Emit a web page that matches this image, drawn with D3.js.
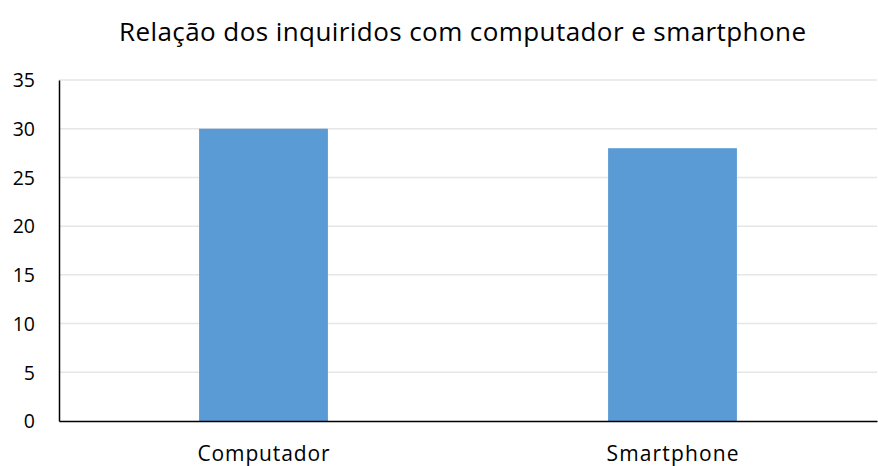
<!DOCTYPE html>
<html>
<head>
<meta charset="utf-8">
<script src="https://cdn.jsdelivr.net/npm/d3@7"></script>
<style>
  body { margin: 0; background: #fff; }
  text { font-family: "Open Sans", "Noto Sans", sans-serif; fill: #000; }
</style>
</head>
<body>
<div id="chart-area"></div>
<script>
const categories = ["Computador", "Smartphone"];
const values = [30, 28];
const yTicks = [0, 5, 10, 15, 20, 25, 30, 35];
const title = "Relação dos inquiridos com computador e smartphone";

const width = 878;
const height = 466;
const margin = { top: 80, right: 1, bottom: 45, left: 59 };

const svg = d3.select("#chart-area")
    .append("svg")
    .attr("width", width)
    .attr("height", height);

const x = d3.scaleBand()
    .domain(categories)
    .range([margin.left, width - margin.right])
    .paddingInner(0.685)
    .paddingOuter(0.3425);

const y = d3.scaleLinear()
    .domain([0, 35])
    .range([height - margin.bottom, margin.top]);

// gridlines
svg.append("g")
    .selectAll("line")
    .data(yTicks.filter(d => d > 0))
    .enter()
    .append("line")
    .attr("x1", margin.left)
    .attr("x2", width - margin.right)
    .attr("y1", d => y(d))
    .attr("y2", d => y(d))
    .attr("stroke", "#e6e6e6")
    .attr("stroke-width", 1.5);

// bars
svg.append("g")
    .selectAll("rect")
    .data(values)
    .enter()
    .append("rect")
    .attr("x", (d, i) => x(categories[i]))
    .attr("y", d => y(d))
    .attr("width", x.bandwidth())
    .attr("height", d => y(0) - y(d))
    .attr("fill", "#5b9bd5");

// y axis
const yAxis = svg.append("g")
    .attr("transform", "translate(" + margin.left + ",0)")
    .call(d3.axisLeft(y).tickValues(yTicks).tickSize(0).tickPadding(24));
yAxis.select(".domain").attr("stroke", "#000").attr("stroke-width", 1.5);
yAxis.selectAll("text").style("font-size", "19.5px").attr("dy", "0.35em");

// x axis
const xAxis = svg.append("g")
    .attr("transform", "translate(0," + y(0) + ")")
    .call(d3.axisBottom(x).tickSize(0).tickPadding(25));
xAxis.select(".domain").attr("stroke", "#000").attr("stroke-width", 1.5);
xAxis.selectAll("text").style("font-size", "21px").attr("textLength", 132).attr("lengthAdjust", "spacing");

// title
svg.append("text")
    .attr("x", (119 + 806) / 2)
    .attr("y", 34)
    .attr("text-anchor", "middle")
    .attr("dominant-baseline", "middle")
    .attr("textLength", 687)
    .attr("lengthAdjust", "spacing")
    .style("font-size", "26px")
    .text(title);
</script>
</body>
</html>
